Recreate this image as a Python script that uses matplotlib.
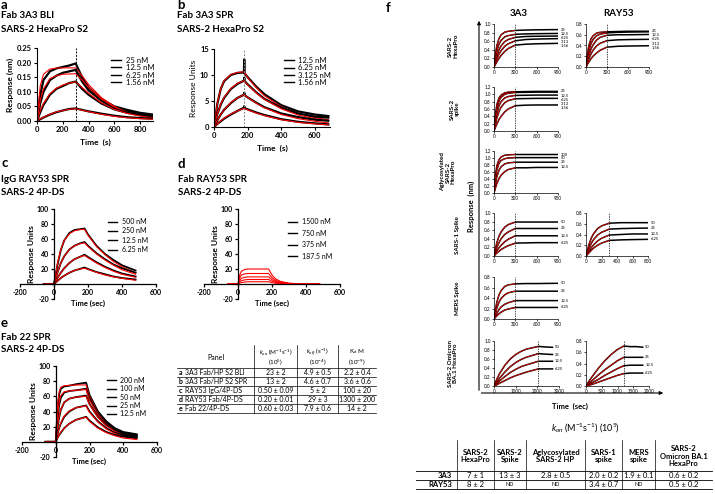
import matplotlib.pyplot as plt
from matplotlib.lines import Line2D

plt.rcParams['font.family'] = ['Lato', 'DejaVu Sans']
plt.rcParams['mathtext.fontset'] = 'custom'
plt.rcParams['mathtext.rm'] = 'Lato'
plt.rcParams['mathtext.it'] = 'Lato:italic'
plt.rcParams['mathtext.bf'] = 'Lato:bold'
plt.rcParams['axes.unicode_minus'] = False

# ---------------- data ----------------
# panel a : Fab 3A3 BLI (nm)
a_conc = ['25 nM', '12.5 nM', '6.25 nM', '1.56 nM']
a_time = [0, 25, 50, 100, 150, 200, 250, 300, 350, 400, 500, 600, 700, 800, 900]
a_black = [
    [0, 0.09, 0.14, 0.17, 0.18, 0.185, 0.19, 0.197, 0.15, 0.115, 0.075, 0.05, 0.038, 0.028, 0.022],
    [0, 0.06, 0.10, 0.14, 0.155, 0.165, 0.17, 0.175, 0.135, 0.105, 0.07, 0.045, 0.032, 0.024, 0.018],
    [0, 0.03, 0.055, 0.09, 0.11, 0.12, 0.13, 0.135, 0.11, 0.09, 0.06, 0.04, 0.028, 0.02, 0.015],
    [0, 0.006, 0.012, 0.022, 0.03, 0.036, 0.041, 0.043, 0.038, 0.033, 0.025, 0.018, 0.013, 0.01, 0.008],
]
a_red = [
    [0, 0.12, 0.16, 0.178, 0.181, 0.182, 0.182, 0.182, 0.155, 0.125, 0.08, 0.05, 0.03, 0.02, 0.012],
    [0, 0.07, 0.11, 0.145, 0.155, 0.16, 0.161, 0.162, 0.14, 0.115, 0.075, 0.048, 0.03, 0.02, 0.012],
    [0, 0.035, 0.06, 0.093, 0.112, 0.123, 0.13, 0.134, 0.115, 0.095, 0.062, 0.04, 0.026, 0.017, 0.011],
    [0, 0.007, 0.013, 0.023, 0.031, 0.036, 0.040, 0.042, 0.037, 0.032, 0.023, 0.016, 0.011, 0.008, 0.006],
]

# panel b : Fab 3A3 SPR (RU)
b_conc = ['12.5 nM', '6.25 nM', '3.125 nM', '1.56 nM']
b_time = [0, 20, 40, 60, 100, 140, 178, 180, 182, 200, 250, 300, 400, 500, 600, 680]
b_black = [
    [0, 4.5, 7.3, 8.8, 10.0, 10.4, 10.5, 13.0, 10.3, 9.6, 7.8, 6.3, 4.2, 3.0, 2.4, 2.1],
    [0, 2.5, 4.3, 5.6, 7.3, 8.3, 8.9, 9.5, 8.8, 8.2, 6.7, 5.4, 3.7, 2.6, 2.0, 1.8],
    [0, 1.3, 2.4, 3.3, 4.6, 5.6, 6.2, 6.6, 6.1, 5.7, 4.7, 3.8, 2.6, 1.9, 1.4, 1.2],
    [0, 0.6, 1.1, 1.6, 2.4, 3.1, 3.7, 4.0, 3.6, 3.4, 2.8, 2.3, 1.5, 1.0, 0.7, 0.5],
]
b_red = [
    [0, 4.6, 7.4, 8.9, 10.1, 10.5, 10.6, 10.6, 10.5, 9.5, 7.6, 6.0, 3.9, 2.6, 1.8, 1.4],
    [0, 2.5, 4.4, 5.7, 7.4, 8.4, 8.9, 8.9, 8.8, 8.1, 6.6, 5.3, 3.5, 2.3, 1.6, 1.2],
    [0, 1.3, 2.4, 3.3, 4.7, 5.6, 6.2, 6.2, 6.1, 5.7, 4.6, 3.7, 2.4, 1.6, 1.1, 0.8],
    [0, 0.6, 1.2, 1.7, 2.5, 3.1, 3.6, 3.6, 3.55, 3.3, 2.7, 2.2, 1.4, 0.9, 0.6, 0.4],
]

# panel c : IgG RAY53 SPR (RU)
c_conc = ['500 nM', '250 nM', '12.5 nM', '6.25 nM']
c_time = [-60, 0, 20, 40, 60, 90, 120, 150, 180, 200, 250, 300, 350, 400, 480]
c_black = [
    [0, 0, 25, 45, 58, 68, 72, 73, 74, 66, 51, 40, 32, 25, 18],
    [0, 0, 15, 28, 37, 46, 51, 54, 56, 51, 41, 33, 26, 21, 15],
    [0, 0, 8, 15, 21, 28, 33, 36, 39, 36, 29, 23, 18, 14, 10],
    [0, 0, 4, 8, 11, 15, 18, 20, 22, 20, 16, 13, 10, 8, 6],
]
c_red = [
    [0, 0, 27, 46, 58, 67, 71, 72.5, 73, 65, 50, 39, 30, 23, 15],
    [0, 0, 15, 28, 37, 46, 51, 53.5, 55, 50, 40, 32, 25, 19, 13],
    [0, 0, 8, 15, 21, 28, 33, 36, 38, 35, 28, 22, 17, 13, 9],
    [0, 0, 4, 8, 11, 15, 18, 20, 21, 19.5, 15.5, 12, 9.5, 7.5, 5],
]

# panel d : Fab RAY53 SPR (RU), fits only
d_conc = ['1500 nM', '750 nM', '375 nM', '187.5 nM']
d_time = [-60, 0, 10, 20, 40, 60, 100, 180, 190, 200, 220, 250, 300, 400, 480]
d_red = [
    [0, 0, 12, 17, 19.5, 20, 20, 20, 16, 12, 7, 3.5, 1, 0, 0],
    [0, 0, 8, 12, 13.5, 14, 14, 14, 11, 8.5, 5, 2.5, 0.8, 0, 0],
    [0, 0, 5, 7.5, 9, 9.5, 9.5, 9.5, 7.5, 5.8, 3.4, 1.7, 0.5, 0, 0],
    [0, 0, 3, 4.5, 5.5, 6, 6, 6, 4.8, 3.7, 2.2, 1.1, 0.3, 0, 0],
    [0, 0, 1.2, 2, 2.6, 3, 3, 3, 2.4, 1.8, 1.1, 0.5, 0.2, 0, 0],
]

# panel e : Fab 22 SPR (RU)
e_conc = ['200 nM', '100 nM', '50 nM', '25 nM', '12.5 nM']
e_time = [-60, 0, 10, 20, 30, 50, 80, 120, 180, 200, 250, 300, 350, 400, 480]
e_black = [
    [0, 0, 40, 62, 70, 73, 74, 76, 78, 62, 40, 27, 18, 13, 10],
    [0, 0, 30, 48, 58, 65, 67, 68, 70, 57, 37, 25, 17, 12, 9],
    [0, 0, 18, 32, 42, 52, 57, 59, 61, 50, 33, 22, 15, 11, 8],
    [0, 0, 10, 18, 24, 33, 40, 45, 48, 40, 27, 18, 12, 9, 7],
    [0, 0, 5, 9, 12, 18, 24, 29, 33, 28, 19, 13, 9, 7, 5],
]
e_red = [
    [0, 0, 48, 66, 72, 74, 74.5, 75, 75, 60, 38, 24, 16, 10, 5],
    [0, 0, 33, 52, 61, 66, 67, 68, 69, 55, 36, 23, 15, 9, 5],
    [0, 0, 20, 34, 43, 52, 57, 59, 60, 49, 32, 21, 14, 9, 5],
    [0, 0, 10, 18, 25, 34, 41, 45, 47.5, 39, 26, 17, 11, 7, 4],
    [0, 0, 5, 9, 13, 18, 24, 29, 32.5, 27, 18, 12, 8, 5, 3],
]

# kinetics table (middle)
tbl_panel = ['a', 'b', 'c', 'd', 'e']
tbl_desc = ['3A3 Fab/HP S2 BLI', '3A3 Fab/HP S2 SPR', 'RAY53 IgG/4P-DS',
            'RAY53 Fab/4P-DS', 'Fab 22/4P-DS']
tbl_kon = ['23 ± 2', '13 ± 2', '0.50 ± 0.09', '0.20 ± 0.01', '0.60 ± 0.03']
tbl_koff = ['4.9 ± 0.5', '4.6 ± 0.7', '5 ± 2', '29 ± 3', '7.9 ± 0.6']
tbl_kd = ['2.2 ± 0.4', '3.6 ± 0.6', '100 ± 20', '1300 ± 200', '14 ± 2']

# panel f : BLI traces (nm)
f_time = [0, 20, 40, 70, 100, 150, 200, 300, 450, 600, 900]
f_time_800 = [0, 20, 40, 70, 100, 150, 200, 300, 450, 600, 800]
f_time_omi_3a3 = [0, 100, 250, 500, 750, 1000, 1250, 1500, 2050, 2300, 2700]
f_time_omi_ray53 = [0, 100, 200, 400, 600, 800, 1000, 1200, 1400, 1600, 1800]

f_hp_3a3 = [
    [0, 0.30, 0.50, 0.66, 0.75, 0.81, 0.83, 0.85, 0.86, 0.865, 0.87],
    [0, 0.22, 0.38, 0.53, 0.62, 0.70, 0.73, 0.76, 0.77, 0.775, 0.78],
    [0, 0.15, 0.27, 0.40, 0.49, 0.59, 0.64, 0.69, 0.71, 0.715, 0.72],
    [0, 0.10, 0.19, 0.30, 0.38, 0.48, 0.54, 0.61, 0.64, 0.65, 0.66],
    [0, 0.06, 0.12, 0.20, 0.27, 0.36, 0.43, 0.51, 0.53, 0.54, 0.55],
]
f_hp_ray53 = [
    [0, 0.24, 0.39, 0.52, 0.58, 0.63, 0.645, 0.655, 0.66, 0.665, 0.665],
    [0, 0.17, 0.30, 0.43, 0.51, 0.58, 0.61, 0.635, 0.645, 0.65, 0.655],
    [0, 0.12, 0.22, 0.33, 0.41, 0.50, 0.55, 0.59, 0.60, 0.60, 0.605],
    [0, 0.08, 0.15, 0.24, 0.31, 0.39, 0.44, 0.49, 0.505, 0.51, 0.515],
    [0, 0.05, 0.09, 0.15, 0.20, 0.26, 0.31, 0.37, 0.385, 0.39, 0.395],
]
f_spike_3a3 = [
    [0, 0.45, 0.72, 0.90, 0.98, 1.04, 1.06, 1.07, 1.075, 1.08, 1.08],
    [0, 0.37, 0.62, 0.82, 0.92, 1.00, 1.03, 1.05, 1.055, 1.06, 1.06],
    [0, 0.28, 0.49, 0.69, 0.80, 0.90, 0.94, 0.97, 0.975, 0.98, 0.98],
    [0, 0.19, 0.35, 0.53, 0.65, 0.77, 0.83, 0.88, 0.885, 0.89, 0.89],
    [0, 0.10, 0.19, 0.31, 0.40, 0.52, 0.60, 0.69, 0.705, 0.71, 0.71],
]
f_agly_3a3 = [
    [0, 0.50, 0.78, 0.95, 1.03, 1.08, 1.09, 1.10, 1.10, 1.10, 1.10],
    [0, 0.40, 0.66, 0.85, 0.93, 0.98, 1.00, 1.01, 1.01, 1.01, 1.01],
    [0, 0.26, 0.46, 0.65, 0.75, 0.83, 0.86, 0.88, 0.88, 0.88, 0.88],
    [0, 0.14, 0.27, 0.41, 0.51, 0.61, 0.67, 0.72, 0.72, 0.73, 0.73],
]
f_s1_3a3 = [
    [0, 0.17, 0.31, 0.46, 0.56, 0.67, 0.73, 0.79, 0.79, 0.79, 0.79],
    [0, 0.10, 0.20, 0.31, 0.40, 0.50, 0.56, 0.64, 0.64, 0.64, 0.64],
    [0, 0.06, 0.12, 0.19, 0.25, 0.33, 0.39, 0.47, 0.47, 0.47, 0.47],
    [0, 0.035, 0.07, 0.11, 0.15, 0.20, 0.24, 0.30, 0.305, 0.31, 0.31],
]
f_s1_ray53 = [
    [0, 0.12, 0.22, 0.34, 0.42, 0.51, 0.56, 0.61, 0.62, 0.62, 0.62],
    [0, 0.08, 0.15, 0.24, 0.31, 0.39, 0.44, 0.50, 0.51, 0.515, 0.52],
    [0, 0.05, 0.10, 0.16, 0.21, 0.28, 0.33, 0.39, 0.40, 0.41, 0.41],
    [0, 0.03, 0.06, 0.11, 0.15, 0.20, 0.24, 0.29, 0.30, 0.305, 0.31],
]
f_mers_3a3 = [
    [0, 0.18, 0.32, 0.46, 0.54, 0.62, 0.65, 0.67, 0.675, 0.675, 0.68],
    [0, 0.11, 0.21, 0.32, 0.39, 0.46, 0.50, 0.53, 0.53, 0.53, 0.53],
    [0, 0.06, 0.11, 0.18, 0.23, 0.28, 0.31, 0.35, 0.35, 0.35, 0.35],
    [0, 0.03, 0.06, 0.10, 0.13, 0.17, 0.19, 0.22, 0.22, 0.22, 0.22],
]
f_omi_3a3 = [
    [0, 0.12, 0.27, 0.46, 0.60, 0.70, 0.77, 0.82, 0.88, 0.87, 0.86],
    [0, 0.07, 0.17, 0.31, 0.43, 0.52, 0.59, 0.64, 0.72, 0.71, 0.70],
    [0, 0.04, 0.11, 0.21, 0.30, 0.37, 0.43, 0.47, 0.55, 0.55, 0.55],
    [0, 0.02, 0.06, 0.12, 0.18, 0.23, 0.27, 0.31, 0.38, 0.38, 0.38],
]
f_omi_ray53 = [
    [0, 0.09, 0.17, 0.32, 0.45, 0.56, 0.65, 0.71, 0.70, 0.70, 0.69],
    [0, 0.05, 0.10, 0.20, 0.29, 0.37, 0.45, 0.51, 0.51, 0.51, 0.51],
    [0, 0.03, 0.06, 0.12, 0.19, 0.25, 0.31, 0.36, 0.37, 0.37, 0.37],
    [0, 0.015, 0.03, 0.07, 0.11, 0.15, 0.19, 0.22, 0.23, 0.23, 0.23],
]
f_lab5 = ['25', '12.5', '6.25', '3.13', '1.56']
f_lab_agly = ['100', '50', '25', '12.5']
f_lab4 = ['50', '25', '12.5', '6.25']

f_rows = ['SARS-2\nHexaPro', 'SARS-2\nspike', 'Aglycosylated\nSARS-2\nHexaPro',
          'SARS-1 Spike', 'MERS Spike', 'SARS-2 Omicron\nBA.1 HexaPro']

# kon table (bottom right)
kon_targets = ['SARS-2\nHexaPro', 'SARS-2\nSpike', 'Aglycosylated\nSARS-2 HP',
               'SARS-1\nspike', 'MERS\nspike', 'SARS-2\nOmicron BA.1\nHexaPro']
kon_abs = ['3A3', 'RAY53']
kon_vals = [['7 ± 1', '13 ± 3', '2.8 ± 0.5', '2.0 ± 0.2', '1.9 ± 0.1', '0.6 ± 0.2'],
            ['8 ± 2', 'ND', 'ND', '3.4 ± 0.7', 'ND', '0.5 ± 0.2']]

# ---------------- figure ----------------
W, H = 715, 494
fig = plt.figure(figsize=(W / 100, H / 100), dpi=100)

ov = fig.add_axes([0, 0, 1, 1])
ov.set_xlim(0, W)
ov.set_ylim(H, 0)
ov.axis('off')


def box(l, t, r, b):
    return fig.add_axes([l / W, 1 - b / H, (r - l) / W, (b - t) / H])


def style(ax, xt, yt, fs, lw=0.8, tl=2.5, xfmt='{:g}', yfmt='{:g}', blank_y0=False, weight='bold'):
    for s in ('top', 'right'):
        ax.spines[s].set_visible(False)
    for s in ('left', 'bottom'):
        ax.spines[s].set_linewidth(lw)
    ylab = [yfmt.format(v) for v in yt]
    if blank_y0:
        ylab = ['' if v == 0 else l for v, l in zip(yt, ylab)]
    ax.set_xticks(xt, [xfmt.format(v) for v in xt], fontweight=weight, fontsize=fs)
    ax.set_yticks(yt, ylab, fontweight=weight, fontsize=fs)
    ax.tick_params(direction='out', length=tl, width=lw, pad=1.2)


def legend(ax, labels, x, y, fs, sp):
    hs = [Line2D([], [], color='black', lw=1.0) for _ in labels]
    ax.legend(hs, labels, loc='upper left', bbox_to_anchor=(x, y), frameon=False,
              fontsize=fs, handlelength=1.3, handletextpad=0.6, labelspacing=sp,
              borderaxespad=0, borderpad=0)


def titles(x, y, letter, l1, l2, gap=(11, 24)):
    ov.text(x, y, letter, fontsize=9.5, fontweight='bold', va='center')
    ov.text(x, y + gap[0], l1, fontsize=7, fontweight='bold', va='center')
    ov.text(x, y + gap[1], l2, fontsize=7, fontweight='bold', va='center')


# panel a
titles(1, 5, 'a', 'Fab 3A3 BLI', 'SARS-2 HexaPro S2')
ax = box(37, 48, 153, 121)
for yb, yr in zip(a_black, a_red):
    ax.plot(a_time, yb, color='black', lw=1.6)
    ax.plot(a_time, yr, color='red', lw=0.8)
ax.axvline(300, color='black', ls=(0, (2, 1.5)), lw=0.7)
ax.set_xlim(0, 900)
ax.set_ylim(0, 0.25)
style(ax, [0, 200, 400, 600, 800], [0, 0.05, 0.10, 0.15, 0.20, 0.25], 5.5, yfmt='{:.2f}')
ax.set_xlabel('Time  (s)', fontsize=6, fontweight='bold', labelpad=4)
ax.set_ylabel('Response (nm)', fontsize=6, fontweight='bold', labelpad=2)
legend(ax, a_conc, 0.64, 0.88, 5.5, 0.05)

# panel b
titles(177, 5, 'b', 'Fab 3A3 SPR', 'SARS-2 HexaPro S2')
ax = box(214, 49, 330, 127)
for yb, yr in zip(b_black, b_red):
    ax.plot(b_time, yb, color='black', lw=1.6)
    ax.plot(b_time, yr, color='red', lw=0.8)
ax.axvline(180, color='grey', ls=(0, (2, 1.5)), lw=0.7)
ax.set_xlim(0, 690)
ax.set_ylim(0, 15)
style(ax, [0, 200, 400, 600], [0, 5, 10, 15], 5.5)
ax.set_xlabel('Time  (s)', fontsize=6, fontweight='bold', labelpad=4)
ax.set_ylabel('Response Units', fontsize=6, labelpad=2)
legend(ax, b_conc, 0.6, 0.9, 5.5, 0.05)


def spr(ax):
    ax.spines['left'].set_position(('data', 0))
    ax.spines['bottom'].set_position(('data', 0))
    ax.set_xlim(-200, 600)
    ax.set_ylim(-20, 100)
    style(ax, [-200, 0, 200, 400, 600], [-20, 0, 20, 40, 60, 80, 100], 5,
          lw=0.9, tl=2.5, blank_y0=True)
    ax.set_ylabel('Response Units', fontsize=6, fontweight='bold', labelpad=1)
    ax.text(0.5, -0.01, 'Time (sec)', transform=ax.transAxes, ha='center', va='top',
            fontsize=5.5, fontweight='bold')


# panel c
titles(1, 163, 'c', 'IgG RAY53 SPR', 'SARS-2 4P-DS', gap=(16, 29))
ax = box(20, 209, 156, 299)
for yb, yr in zip(c_black, c_red):
    ax.plot(c_time, yb, color='black', lw=1.3)
    ax.plot(c_time, yr, color='red', lw=0.8)
spr(ax)
legend(ax, c_conc, 0.65, 0.9, 5, 0.35)

# panel d
titles(178, 164, 'd', 'Fab RAY53 SPR', 'SARS-2 4P-DS', gap=(15, 28))
ax = box(204, 209, 340, 299)
for yr in d_red:
    ax.plot(d_time, yr, color='red', lw=0.8)
spr(ax)
legend(ax, d_conc, 0.62, 0.9, 5, 0.65)

# panel e
titles(1, 323, 'e', 'Fab 22 SPR', 'SARS-2 4P-DS', gap=(14, 26))
ax = box(22, 366, 157, 457)
for yb, yr in zip(e_black, e_red):
    ax.plot(e_time, yb, color='black', lw=1.3)
    ax.plot(e_time, yr, color='red', lw=0.8)
spr(ax)
legend(ax, e_conc, 0.63, 0.88, 5, 0.2)

# middle table
tx = [177, 254, 297, 338, 376]
ty = [345, 368, 377, 386, 395, 404, 413]
for y in ty[1:]:
    ov.plot([tx[0], tx[-1]], [y, y], color='black', lw=0.5)
for x in tx[1:-1]:
    ov.plot([x, x], [ty[0], ty[-1]], color='black', lw=0.5)
hfs = 5
hdr = 4.5
ov.text((tx[0] + tx[1]) / 2, 357, 'Panel', ha='center', va='center', fontsize=hfs)
ov.text((tx[1] + tx[2]) / 2, 352, r'$k_{on}$ (M$^{-1}$s$^{-1}$)', ha='center', va='center', fontsize=hdr)
ov.text((tx[1] + tx[2]) / 2, 362, r'(10$^{5}$)', ha='center', va='center', fontsize=hdr)
ov.text((tx[2] + tx[3]) / 2, 352, r'$k_{off}$ (s$^{-1}$)', ha='center', va='center', fontsize=hdr)
ov.text((tx[2] + tx[3]) / 2, 362, r'(10$^{-4}$)', ha='center', va='center', fontsize=hdr)
ov.text((tx[3] + tx[4]) / 2, 352, r'K$_{d}$ M', ha='center', va='center', fontsize=hdr)
ov.text((tx[3] + tx[4]) / 2, 362, r'(10$^{-9}$)', ha='center', va='center', fontsize=hdr)
for i, (p, d, k1, k2, kd) in enumerate(zip(tbl_panel, tbl_desc, tbl_kon, tbl_koff, tbl_kd)):
    yc = (ty[i + 1] + ty[i + 2]) / 2
    ov.text(179, yc, p, fontsize=hfs, fontweight='bold', va='center')
    ov.text(185, yc, d, fontsize=hfs, va='center')
    for j, v in enumerate([k1, k2, kd]):
        ov.text((tx[j + 1] + tx[j + 2]) / 2, yc, v, fontsize=hfs, ha='center', va='center')

# panel f
ov.text(386, 8, 'f', fontsize=9.5, fontweight='bold', va='center')
ov.text(519, 13, '3A3', fontsize=7, fontweight='bold', ha='center', va='center')
ov.text(619, 13, 'RAY53', fontsize=7, fontweight='bold', ha='center', va='center')
ov.annotate('', xy=(479, 18), xytext=(479, 393),
            arrowprops=dict(arrowstyle='-|>', lw=0.8, color='black', mutation_scale=5))
ov.annotate('', xy=(666, 393), xytext=(478.6, 393),
            arrowprops=dict(arrowstyle='-|>', lw=0.8, color='black', mutation_scale=5))
ov.text(570, 406, 'Time  (sec)', fontsize=5.5, fontweight='bold', ha='center', va='center')
ov.text(471, 206, 'Response  (nm)', fontsize=5.5, fontweight='bold', ha='center', va='center',
        rotation=90)
row_y = [46, 109, 172, 235, 298, 363]
row_x = [453, 455, 448, 458, 458, 453]
for lab, x, y in zip(f_rows, row_x, row_y):
    ov.text(x, y, lab, fontsize=4.5, fontweight='bold', ha='center', va='center',
            rotation=90, linespacing=1.1)

f_panels = [
    ((494, 24, 558, 67), f_time, f_hp_3a3, f_lab5, 300, 900, [0, 300, 600, 900], 1.0),
    ((586, 24, 649, 67), f_time, f_hp_ray53, f_lab5, 300, 900, [0, 300, 600, 900], 0.8),
    ((494, 87, 558, 131), f_time, f_spike_3a3, f_lab5, 300, 900, [0, 300, 600, 900], 1.2),
    ((494, 151, 558, 193), f_time, f_agly_3a3, f_lab_agly, 300, 900, [0, 300, 600, 900], 1.2),
    ((494, 213, 558, 256), f_time, f_s1_3a3, f_lab4, 300, 900, [0, 300, 600, 900], 1.0),
    ((586, 213, 648, 256), f_time_800, f_s1_ray53, f_lab4, 300, 800, [0, 200, 400, 600, 800], 0.8),
    ((494, 277, 558, 319), f_time, f_mers_3a3, f_lab4, 300, 900, [0, 300, 600, 900], 0.8),
    ((494, 341, 559, 386), f_time_omi_3a3, f_omi_3a3, f_lab4, 2050, 3000, [0, 1000, 2000, 3000], 1.0),
    ((586, 341, 649, 386), f_time_omi_ray53, f_omi_ray53, f_lab4, 1200, 2000, [0, 500, 1000, 1500, 2000], 0.8),
]
for rect, t, curves, labs, tdis, xmax, xt, ymax in f_panels:
    ax = box(*rect)
    # label positions follow curve ends, pushed apart so they do not collide
    gap = 0.095 * ymax
    ly = []
    for y in curves:
        v = y[-1]
        if ly and v > ly[-1] - gap:
            v = ly[-1] - gap
        ly.append(v)
    for y, lab, yl in zip(curves, labs, ly):
        ax.plot(t, y, color='black', lw=1.1)
        n = sum(1 for v in t if v <= tdis)
        ax.plot(t[:n], y[:n], color='red', lw=0.5)
        ax.text(t[-1] + xmax * 0.04, yl, lab, fontsize=3, va='center', clip_on=False)
    ax.axvline(tdis, color='black', ls=(0, (2, 1.5)), lw=0.5)
    ax.set_xlim(0, xmax)
    ax.set_ylim(0, ymax)
    yt = [round(v * 0.2, 1) for v in range(int(round(ymax / 0.2)) + 1)]
    style(ax, xt, yt, 3.3, lw=0.5, tl=1.5, yfmt='{:.1f}', weight='normal')
    ax.tick_params(pad=0.8)

# kon table (bottom)
ov.text(585, 428, r'$k_{on}$ (M$^{-1}$s$^{-1}$) (10$^{5}$)', fontsize=6.5, ha='center', va='center')
kx = [416, 457, 494, 526, 585, 622, 655, 712]
ky = [440, 471, 480, 489]
for y in ky[1:]:
    ov.plot([kx[0], kx[-1]], [y, y], color='black', lw=0.6)
for x in kx[1:-1]:
    ov.plot([x, x], [ky[0], ky[-1]], color='black', lw=0.5)
for j, lab in enumerate(kon_targets):
    ov.text((kx[j + 1] + kx[j + 2]) / 2, 456, lab, fontsize=5.5, fontweight='bold',
            ha='center', va='center', linespacing=1.15)
for i, (ab, vals) in enumerate(zip(kon_abs, kon_vals)):
    yc = (ky[i + 1] + ky[i + 2]) / 2
    ov.text(452, yc, ab, fontsize=5.5, fontweight='bold', ha='right', va='center')
    for j, v in enumerate(vals):
        ov.text((kx[j + 1] + kx[j + 2]) / 2, yc, v, fontsize=4 if v == 'ND' else 5.5,
                ha='center', va='center')

fig.savefig('out.png', dpi=100)
